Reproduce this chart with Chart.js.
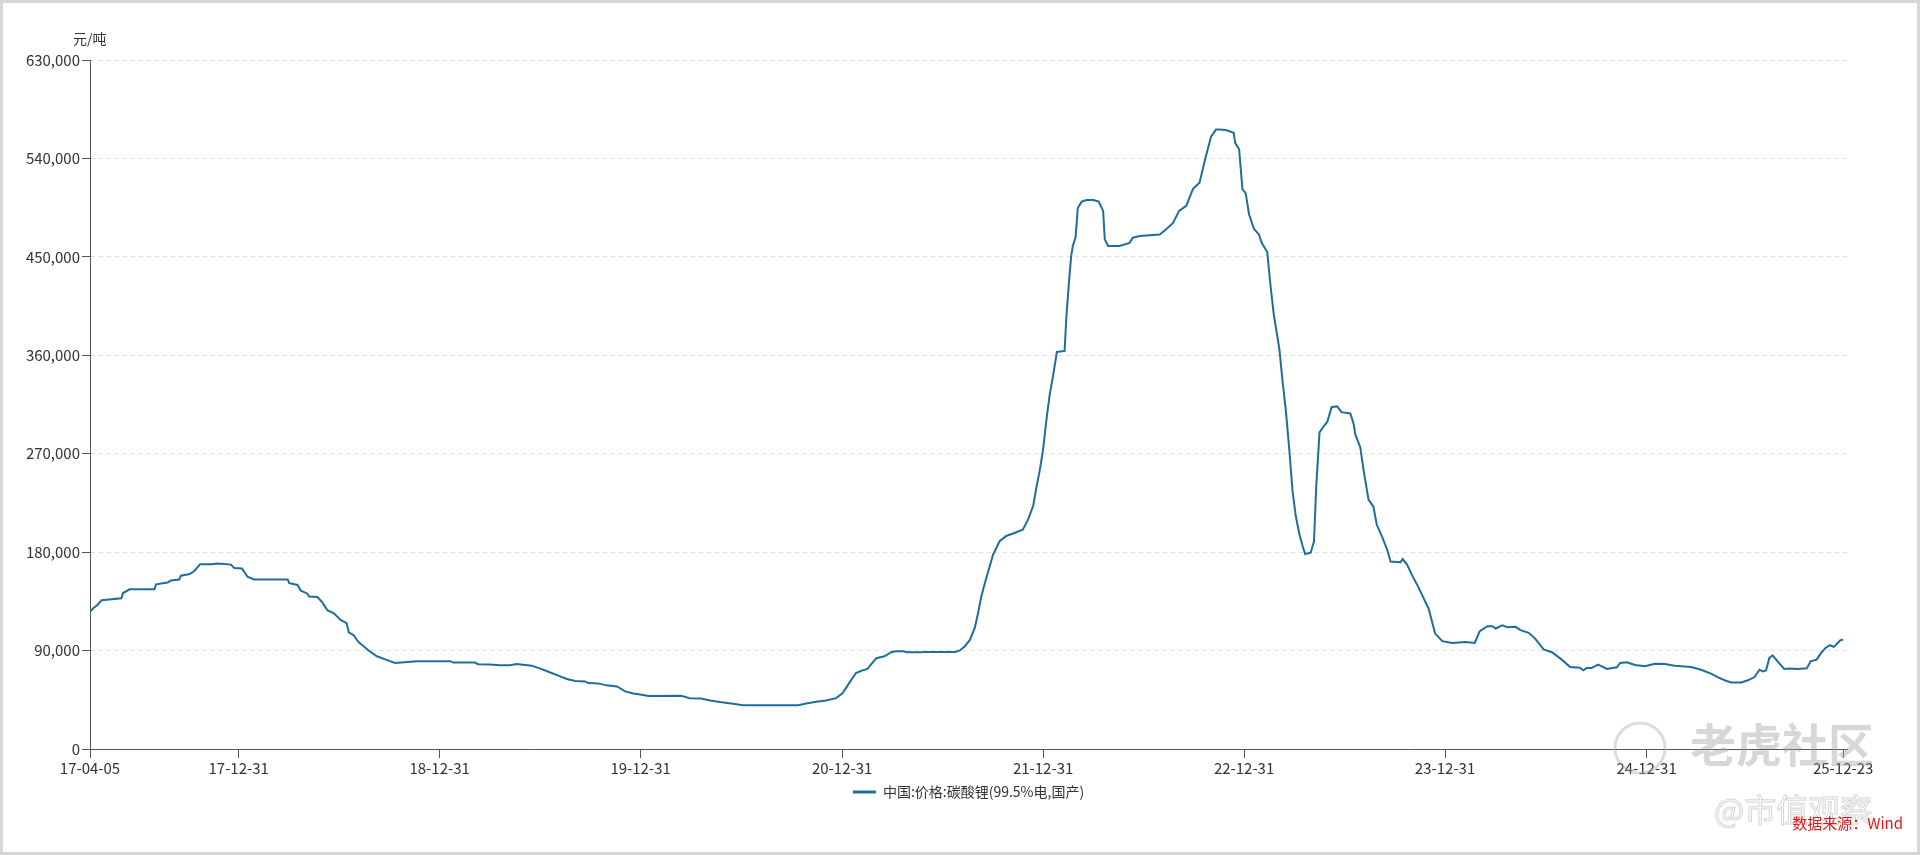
<!DOCTYPE html>
<html lang="zh-CN">
<head>
<meta charset="utf-8">
<title>中国:价格:碳酸锂(99.5%电,国产)</title>
<script src="https://cdn.jsdelivr.net/npm/chart.js@4.4.1/dist/chart.umd.min.js"></script>
<style>
  html, body { margin: 0; padding: 0; background: #fff; }
  #wrap { position: relative; width: 1920px; height: 855px; overflow: hidden; }
  #wrap canvas { position: absolute; left: 0; top: 0; }
  #frame {
    position: absolute; left: 0; top: 0; width: 1920px; height: 855px;
    box-sizing: border-box; border: 3px solid #d6d6d6; pointer-events: none;
  }
</style>
</head>
<body>
<div id="wrap">
  <canvas id="priceChart" width="1920" height="855"></canvas>
  <div id="frame"></div>
</div>
<script>
// Series name and unit
const seriesName = '中国:价格:碳酸锂(99.5%电,国产)';
const unitLabel = '元/吨';
const sourceLabel = '数据来源：Wind';

// X axis: days counted from the first date
const startDate = '2017-04-05';
const tickDates = ['2017-04-05', '2017-12-31', '2018-12-31', '2019-12-31', '2020-12-31',
                   '2021-12-31', '2022-12-31', '2023-12-31', '2024-12-31', '2025-12-23'];
const tickLabels = ['17-04-05', '17-12-31', '18-12-31', '19-12-31', '20-12-31',
                    '21-12-31', '22-12-31', '23-12-31', '24-12-31', '25-12-23'];

// Y axis
const yMin = 0;
const yMax = 630000;
const yStep = 90000;

const dayOffsets = [
  0, 6, 13, 21, 57, 60, 72, 117, 120, 141, 147, 162, 165, 181, 190, 200, 220, 232, 256, 262,
  276, 286, 298, 359, 362, 377, 383, 395, 398, 413, 422, 431, 443, 455, 466, 470, 479, 488, 497, 506,
  521, 536, 554, 594, 654, 660, 699, 705, 726, 745, 763, 775, 802, 818, 836, 854, 866, 881, 899, 905,
  923, 938, 957, 972, 987, 1002, 1014, 1074, 1089, 1110, 1126, 1144, 1168, 1186, 1286, 1301, 1319, 1337, 1355, 1367,
  1376, 1391, 1403, 1412, 1428, 1443, 1455, 1464, 1476, 1485, 1506, 1519, 1571, 1580, 1589, 1598, 1607, 1613, 1619, 1627,
  1634, 1640, 1652, 1664, 1679, 1694, 1703, 1713, 1719, 1725, 1731, 1737, 1743, 1749, 1756, 1770, 1773, 1778, 1782, 1785,
  1790, 1794, 1801, 1810, 1822, 1832, 1840, 1843, 1849, 1870, 1888, 1894, 1906, 1943, 1955, 1967, 1978, 1991, 2003, 2015,
  2027, 2036, 2045, 2051, 2063, 2077, 2080, 2087, 2093, 2099, 2105, 2114, 2123, 2128, 2138, 2144, 2150, 2160, 2166, 2172,
  2178, 2184, 2190, 2196, 2202, 2207, 2217, 2223, 2227, 2233, 2241, 2247, 2255, 2265, 2273, 2289, 2295, 2298, 2307, 2313,
  2322, 2331, 2337, 2347, 2356, 2362, 2380, 2384, 2392, 2401, 2413, 2422, 2431, 2443, 2456, 2474, 2498, 2515, 2524, 2538,
  2547, 2553, 2565, 2574, 2589, 2598, 2613, 2625, 2640, 2655, 2673, 2688, 2706, 2712, 2718, 2727, 2739, 2755, 2773, 2779,
  2791, 2806, 2824, 2842, 2860, 2878, 2908, 2926, 2944, 2956, 2971, 2981, 2999, 3011, 3023, 3032, 3038, 3044, 3050, 3056,
  3065, 3077, 3086, 3101, 3118, 3125, 3136, 3143, 3152, 3160, 3167, 3179, 3184
];
const prices = [
  125300, 128800, 131500, 136000, 137800, 142600, 146000, 146000, 150600, 152300, 154000, 155000, 158500, 160000, 163000, 169000, 169000, 169600, 168600, 165500,
  165000, 157500, 155000, 155000, 151600, 150000, 144700, 142000, 139500, 139000, 134000, 127000, 124000, 118000, 115000, 106600, 104000, 97600, 94000, 90000,
  84800, 82000, 78600, 80300, 80300, 79000, 79000, 77500, 77200, 76500, 76500, 77700, 76200, 73500, 70000, 66400, 64000, 62100, 61800, 60300,
  60000, 58200, 57200, 52700, 50800, 49600, 48400, 48700, 46500, 46200, 44400, 42900, 41300, 40100, 40100, 41600, 43200, 44400, 46500, 51100,
  58200, 69500, 71900, 73200, 83000, 84800, 88500, 89400, 89400, 88500, 88500, 88800, 88800, 90100, 94000, 99700, 111000, 124600, 140000, 155000,
  167000, 177600, 190000, 194800, 197500, 200600, 209000, 222400, 239700, 255000, 274000, 301000, 324000, 341000, 363000, 364000, 393000, 427600, 450600, 460000,
  468000, 494700, 500500, 502000, 502000, 500500, 492000, 466000, 460000, 460000, 462800, 467500, 469000, 470500, 475500, 481000, 492000, 496600, 512000, 517700,
  542700, 560000, 566400, 566400, 566000, 563400, 554000, 548400, 512000, 508000, 489000, 475500, 470500, 462800, 454400, 423800, 397000, 366000, 335600, 308700,
  274200, 235900, 212800, 197500, 186000, 178300, 179500, 190000, 239700, 289500, 295300, 299000, 312500, 313300, 308000, 306800, 297200, 287600, 276000, 255000,
  228000, 221300, 205000, 193700, 182000, 171400, 170700, 173700, 168700, 159000, 147600, 138000, 128500, 105500, 98600, 97000, 97800, 97000, 107700, 112300,
  112300, 110200, 113000, 111400, 111700, 108700, 106200, 100700, 91000, 88500, 81700, 75000, 74400, 71900, 74000, 74000, 77100, 73200, 74700, 78700,
  79300, 76800, 75600, 78000, 77700, 76200, 75000, 72500, 68900, 65800, 62400, 60900, 60900, 62800, 65800, 72500, 71000, 71900, 83300, 85700,
  80200, 73200, 73500, 73200, 73800, 80200, 81700, 87200, 92400, 94900, 93400, 99500, 100000
];

if (dayOffsets.length !== prices.length) {
    console.error('Data length mismatch:', dayOffsets.length, prices.length);
}

const lineColor = '#1f6e99';
const textColor = '#333333';
const fontFamily = '"Noto Sans CJK SC", "Noto Sans", sans-serif';

function daysFromStart(dateStr) {
    const [y0, m0, d0] = startDate.split('-').map(Number);
    const [y1, m1, d1] = dateStr.split('-').map(Number);
    return Math.round((Date.UTC(y1, m1 - 1, d1) - Date.UTC(y0, m0 - 1, d0)) / 86400000);
}

const tickDays = tickDates.map(daysFromStart);
const points = dayOffsets.map((d, i) => ({ x: d, y: prices[i] }));

/**
 * Unit label, legend, source note and the page watermarks
 */
const decorations = {
    id: 'decorations',
    afterDraw(chart) {
        const ctx = chart.ctx;
        const area = chart.chartArea;
        ctx.save();

        // unit label above the y axis
        ctx.font = '14px ' + fontFamily;
        ctx.fillStyle = textColor;
        ctx.textBaseline = 'middle';
        ctx.textAlign = 'left';
        ctx.fillText(unitLabel, 73, 39);

        // legend below the x axis
        ctx.font = '14px ' + fontFamily;
        const textW = ctx.measureText(seriesName).width;
        const sampleW = 23, gap = 7;
        const totalW = sampleW + gap + textW;
        const lx = (area.left + area.right) / 2 - totalW / 2;
        const ly = 792;
        ctx.strokeStyle = lineColor;
        ctx.lineWidth = 3;
        ctx.beginPath();
        ctx.moveTo(lx, ly);
        ctx.lineTo(lx + sampleW, ly);
        ctx.stroke();
        ctx.fillStyle = textColor;
        ctx.fillText(seriesName, lx + sampleW + gap, ly);

        // watermarks
        ctx.globalAlpha = 0.4;
        ctx.strokeStyle = '#a8a8a8';
        ctx.lineWidth = 3;
        ctx.beginPath();
        ctx.arc(1640, 748, 25, 0, Math.PI * 2);
        ctx.stroke();
        ctx.font = 'bold 46px ' + fontFamily;
        ctx.fillStyle = '#9a9a9a';
        ctx.fillText('老虎社区', 1690, 745);
        ctx.globalAlpha = 0.6;
        ctx.font = '32px ' + fontFamily;
        ctx.lineWidth = 1;
        ctx.strokeStyle = '#b8b8b8';
        ctx.strokeText('@市值观察', 1714, 810);

        // data source note
        ctx.globalAlpha = 1;
        ctx.font = '15px ' + fontFamily;
        ctx.fillStyle = '#e0161e';
        ctx.textAlign = 'right';
        ctx.fillText(sourceLabel, 1903, 823);

        ctx.restore();
    }
};

document.addEventListener('DOMContentLoaded', function() {
    const ctx = document.getElementById('priceChart').getContext('2d');

    new Chart(ctx, {
        type: 'line',
        data: {
            datasets: [
                {
                    label: seriesName,
                    data: points,
                    borderColor: lineColor,
                    borderWidth: 2,
                    pointRadius: 0,
                    tension: 0,
                    fill: false
                }
            ]
        },
        options: {
            responsive: false,
            animation: false,
            devicePixelRatio: 1,
            layout: {
                padding: { top: 60, right: 73, bottom: 0, left: 0 }
            },
            plugins: {
                legend: { display: false },
                tooltip: { enabled: false }
            },
            scales: {
                x: {
                    type: 'linear',
                    min: 0,
                    max: 3191,
                    afterFit: scale => { scale.height = 106; },
                    afterBuildTicks: scale => {
                        scale.ticks = tickDays.map(v => ({ value: v }));
                    },
                    ticks: {
                        autoSkip: false,
                        maxRotation: 0,
                        padding: 1,
                        color: textColor,
                        font: { family: fontFamily, size: 15 },
                        callback: (value, index) => tickLabels[index]
                    },
                    grid: {
                        drawOnChartArea: false,
                        drawTicks: true,
                        tickLength: 9,
                        tickColor: '#555555',
                        tickWidth: 1
                    },
                    border: { display: true, color: '#555555', width: 1 }
                },
                y: {
                    min: yMin,
                    max: yMax,
                    afterFit: scale => { scale.width = 90; },
                    ticks: {
                        stepSize: yStep,
                        padding: 2,
                        color: textColor,
                        font: { family: fontFamily, size: 15 },
                        callback: value => value.toLocaleString('en-US')
                    },
                    grid: {
                        color: '#dedede',
                        lineWidth: 1,
                        tickLength: 8,
                        tickColor: '#555555',
                        tickBorderDash: []
                    },
                    border: { display: true, color: '#555555', width: 1, dash: [4, 4] }
                }
            }
        },
        plugins: [decorations]
    });
});
</script>
</body>
</html>
